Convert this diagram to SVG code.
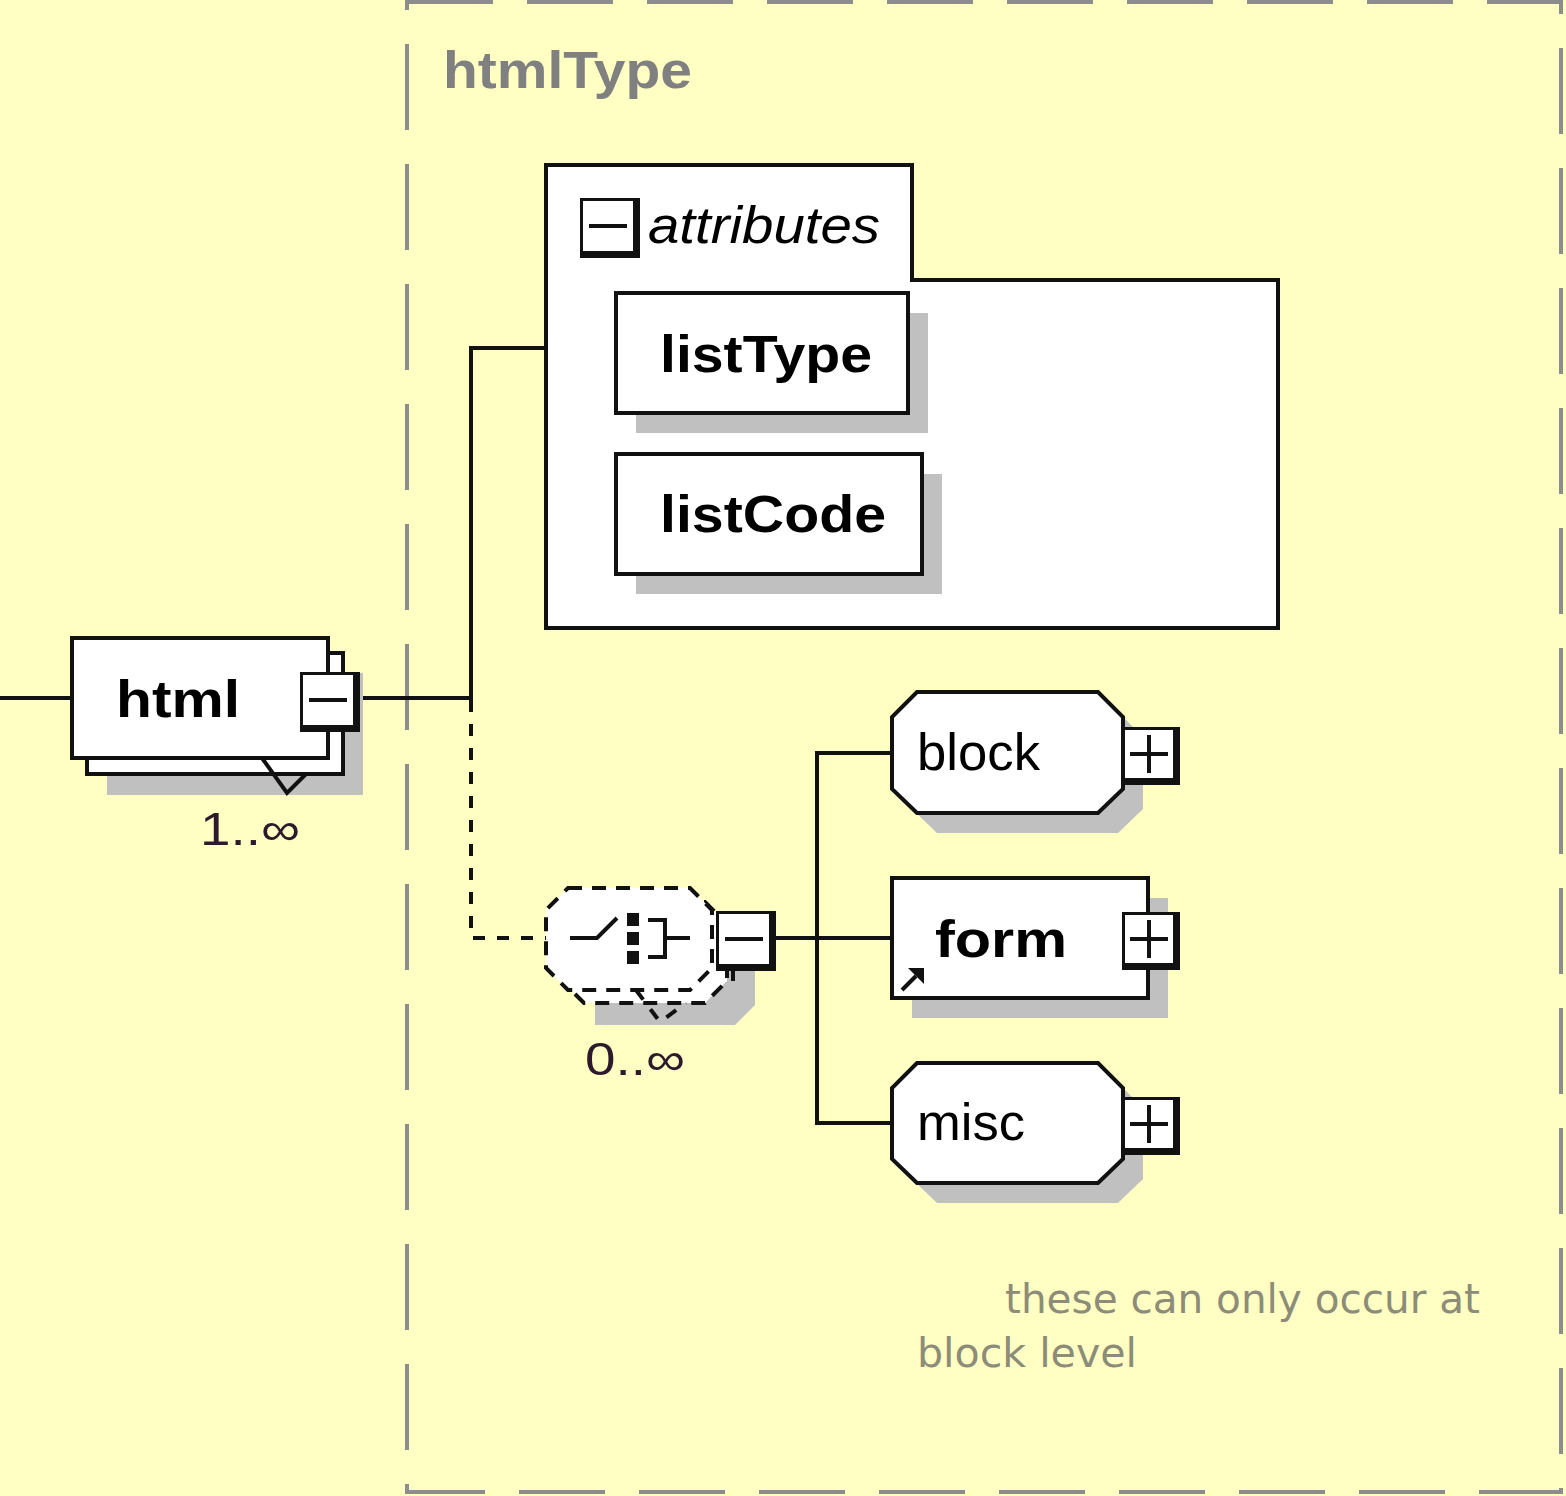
<svg xmlns="http://www.w3.org/2000/svg" width="1566" height="1496" viewBox="0 0 1566 1496">
<defs>
<style>
.bg{fill:#FFFFC4}
.frame{fill:none;stroke:#8c8c8c;stroke-width:4;stroke-dasharray:86 34}
.node{fill:#fff;stroke:#111;stroke-width:4}
.shadow{fill:#c0c0c0}
.line{fill:none;stroke:#111;stroke-width:4}
.dline{fill:none;stroke:#111;stroke-width:4;stroke-dasharray:12 12}
.dnode{fill:#fff;stroke:#111;stroke-width:4;stroke-dasharray:14 10}
.lbl{font-family:"Liberation Sans",Arial,sans-serif;font-size:52px;fill:#000}
.b{font-weight:bold}
.mult{font-family:"Liberation Sans",Arial,sans-serif;font-size:46px;fill:#2c1a2c}
.title{font-family:"Liberation Sans",Arial,sans-serif;font-size:52px;font-weight:bold;fill:#808080}
.note{font-family:"DejaVu Sans Condensed","DejaVu Sans",sans-serif;font-size:40px;fill:#8c8c78}
</style>
<g id="minusBox">
<rect x="0" y="0" width="60" height="60" fill="#111"/>
<rect x="3" y="3" width="50" height="50" fill="#fff"/>
<line x1="9" y1="28" x2="47" y2="28" stroke="#111" stroke-width="4"/>
</g>
<g id="plusBox">
<rect x="0" y="0" width="58" height="58" fill="#111"/>
<rect x="3" y="3" width="48" height="48" fill="#fff"/>
<line x1="8" y1="27" x2="46" y2="27" stroke="#111" stroke-width="4"/>
<line x1="27" y1="8" x2="27" y2="46" stroke="#111" stroke-width="4"/>
</g>
</defs>
<rect class="bg" x="0" y="0" width="1566" height="1496"/>
<g id="htmlType">
<rect class="frame" x="407" y="2" width="1154" height="1490"/>
<text class="title" x="443" y="88" textLength="249" lengthAdjust="spacingAndGlyphs">htmlType</text>
</g>
<g id="connectors">
<line class="line" x1="0" y1="698" x2="72" y2="698"/>
<polyline class="line" points="360,698 471,698 471,348 546,348"/>
<polyline class="dline" points="471,700 471,938 546,938"/>
<line class="line" x1="773" y1="938" x2="892" y2="938"/>
<polyline class="line" points="892,753 817,753 817,1123 892,1123"/>
</g>
<g id="html">
<rect class="shadow" x="107" y="673" width="256" height="122"/>
<rect class="node" x="87" y="653" width="256" height="121"/>
<path class="line" d="M262,758 L287,793 L306,774"/>
<rect class="node" x="72" y="638" width="256" height="120"/>
<text class="lbl b" x="116" y="717" textLength="124" lengthAdjust="spacingAndGlyphs">html</text>
<use href="#minusBox" x="300" y="672"/>
<text class="mult" x="200" y="845" textLength="100" lengthAdjust="spacingAndGlyphs">1..∞</text>
</g>
<g id="attributes">
<polygon class="node" points="546,165 912,165 912,280 1278,280 1278,628 546,628"/>
<use href="#minusBox" x="580" y="198"/>
<text class="lbl" x="648" y="243" font-style="italic" textLength="232" lengthAdjust="spacingAndGlyphs">attributes</text>
</g>
<g id="listType">
<rect class="shadow" x="636" y="313" width="292" height="120"/>
<rect class="node" x="616" y="293" width="292" height="120"/>
<text class="lbl b" x="660" y="372" textLength="212" lengthAdjust="spacingAndGlyphs">listType</text>
</g>
<g id="listCode">
<rect class="shadow" x="636" y="474" width="306" height="120"/>
<rect class="node" x="616" y="454" width="306" height="120"/>
<text class="lbl b" x="660" y="532" textLength="226" lengthAdjust="spacingAndGlyphs">listCode</text>
</g>
<g id="sequence">
<polygon class="shadow" points="595,925 735,925 755,945 755,1005 735,1025 595,1025"/>
<polygon class="dnode" points="584,902 705,902 727,924 727,981 705,1003 584,1003 562,981 562,924"/>
<polygon class="dnode" points="568,888 690,888 712,910 712,968 690,990 568,990 546,968 546,910"/>
<path class="dline" d="M636,990 L660,1022 L686,1003" stroke-dasharray="10 8"/>
<polyline class="line" points="570,938 597,938 617,918"/>
<rect x="627" y="913" width="12" height="13" fill="#111"/>
<rect x="627" y="932" width="12" height="13" fill="#111"/>
<rect x="627" y="951" width="12" height="13" fill="#111"/>
<polyline class="line" points="648,920 665,920 665,957 648,957"/>
<line class="line" x1="665" y1="938" x2="690" y2="938"/>
<use href="#minusBox" x="716" y="911"/>
<line class="line" x1="733" y1="970" x2="733" y2="981"/>
<text class="mult" x="585" y="1075" textLength="100" lengthAdjust="spacingAndGlyphs">0..∞</text>
</g>
<g id="block">
<polygon class="shadow" points="937,712 1118,712 1143,737 1143,809 1118,833 937,833 912,809 912,737"/>
<polygon class="node" points="917,692 1098,692 1123,717 1123,789 1098,813 917,813 892,789 892,717"/>
<text class="lbl" x="917" y="770" textLength="123" lengthAdjust="spacingAndGlyphs">block</text>
<use href="#plusBox" x="1122" y="727"/>
</g>
<g id="form">
<rect class="shadow" x="912" y="898" width="256" height="120"/>
<rect class="node" x="892" y="878" width="256" height="120"/>
<text class="lbl b" x="935" y="957" textLength="132" lengthAdjust="spacingAndGlyphs">form</text>
<line x1="902" y1="990" x2="916" y2="976" stroke="#111" stroke-width="4"/>
<polygon points="908,968 924,968 924,984" fill="#111"/>
<use href="#plusBox" x="1122" y="912"/>
</g>
<g id="misc">
<polygon class="shadow" points="937,1083 1118,1083 1143,1108 1143,1179 1118,1203 937,1203 912,1179 912,1108"/>
<polygon class="node" points="917,1063 1098,1063 1123,1088 1123,1159 1098,1183 917,1183 892,1159 892,1088"/>
<text class="lbl" x="917" y="1140" textLength="108" lengthAdjust="spacingAndGlyphs">misc</text>
<use href="#plusBox" x="1122" y="1097"/>
</g>
<g id="note">
<text class="note" x="1005" y="1313" textLength="475" lengthAdjust="spacingAndGlyphs">these can only occur at</text>
<text class="note" x="917" y="1367" textLength="220" lengthAdjust="spacingAndGlyphs">block level</text>
</g>
</svg>
